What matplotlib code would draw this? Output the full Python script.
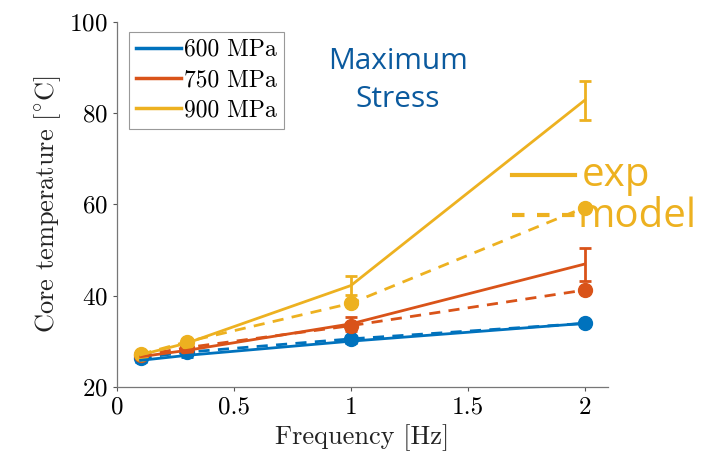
"""
Core temperature vs loading frequency, experiment and model
"""
import matplotlib
matplotlib.use('Agg')
import matplotlib.pyplot as plt
from matplotlib.lines import Line2D

# Data
freq = [0.1, 0.3, 1.0, 2.0]
stress_labels = ['600 MPa', '750 MPa', '900 MPa']

exp_600 = [25.8, 26.9, 30.0, 33.9]
exp_750 = [26.6, 28.0, 33.8, 46.9]
exp_900 = [27.0, 29.6, 42.2, 82.8]
err_600 = [0.3, 0.3, 0.5, 0.6]
err_750 = [0.3, 0.4, 1.6, 3.6]
err_900 = [0.3, 0.5, 2.0, 4.2]

model_600 = [26.3, 27.6, 30.5, 33.9]
model_750 = [26.9, 28.6, 33.4, 41.2]
model_900 = [27.1, 29.9, 38.3, 59.3]

colors = ['#0072BD', '#D95319', '#EDB120']

plt.rcParams['font.family'] = 'serif'
plt.rcParams['font.serif'] = ['cmr10']
plt.rcParams['mathtext.fontset'] = 'cm'
plt.rcParams['axes.formatter.use_mathtext'] = True

fig = plt.figure(figsize=(7.02, 4.66), dpi=100)
ax = fig.add_axes([0.167, 0.170, 0.699, 0.783])

exps = [exp_600, exp_750, exp_900]
errs = [err_600, err_750, err_900]
models = [model_600, model_750, model_900]

handles = []
for exp, err, model, c, lab in zip(exps, errs, models, colors, stress_labels):
    ax.plot(freq, model, '--', color=c, linewidth=2.0, dashes=(4, 3),
            marker='o', markersize=10)
    ax.errorbar(freq, exp, yerr=err, color=c, linewidth=2.0,
                elinewidth=2.0, capsize=4, capthick=2.0)
    handles.append(Line2D([], [], color=c, linewidth=2.5, label=lab))

ax.set_xlim(0, 2.1)
ax.set_ylim(20, 100)
ax.set_xticks([0, 0.5, 1, 1.5, 2])
ax.set_xticklabels(['0', '0.5', '1', '1.5', '2'])
ax.set_yticks([20, 40, 60, 80, 100])
ax.tick_params(labelsize=18, direction='out', length=3, width=0.8,
               color='#555555', pad=4)
for side in ['top', 'right']:
    ax.spines[side].set_visible(False)
for side in ['left', 'bottom']:
    ax.spines[side].set_color('#777777')
    ax.spines[side].set_linewidth(0.9)

ax.set_xlabel('Frequency [Hz]', fontsize=19, color='#222222')
ax.set_ylabel(r'Core temperature [$^{\circ}$C]', fontsize=19, color='#222222')

leg = ax.legend(handles=handles, loc='upper left', fontsize=17,
                bbox_to_anchor=(0.024, 0.973), borderaxespad=0,
                handlelength=1.9, handletextpad=0.15, borderpad=0.3,
                labelspacing=0.35, fancybox=False, framealpha=1)
leg.get_frame().set_edgecolor('#999999')
leg.get_frame().set_linewidth(0.8)

# Annotations
fig.text(0.567, 0.828, 'Maximum\nStress', ha='center', va='center',
         fontsize=21.5, color='#0B5A9E', family='Open Sans', linespacing=1.4)

ax.plot([1.69, 1.96], [66.4, 66.4], '-', color=colors[2], linewidth=3,
        clip_on=False)
ax.plot([1.69, 1.96], [57.7, 57.7], '--', color=colors[2], linewidth=3,
        dashes=(3, 3), clip_on=False)
fig.text(0.828, 0.622, 'exp', ha='left', va='center', fontsize=29,
         color=colors[2], family='Open Sans')
fig.text(0.822, 0.535, 'model', ha='left', va='center', fontsize=29,
         color=colors[2], family='Open Sans')

plt.savefig('out.png', dpi=100)
